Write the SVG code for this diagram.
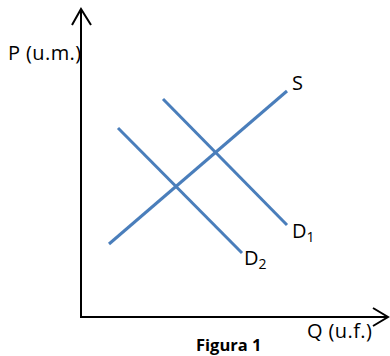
<svg xmlns="http://www.w3.org/2000/svg" width="390" height="356" viewBox="0 0 390 356">
<style>
.ax{stroke:#000;stroke-width:2;fill:none}
.cv{stroke:#4a7ebb;stroke-width:3;fill:none}
text{font-family:"Open Sans","Liberation Sans",sans-serif;font-size:20px;fill:#000}
.sub{font-size:14px}
.b{font-weight:bold;font-size:16.5px}
</style>
<g id="axes">
<polyline class="ax" points="81,9 81,317 388,317"/>
<polyline class="ax" points="72,25 81,9 91,25"/>
<polyline class="ax" points="373,308 388,317 373,326"/>
</g>
<g id="connectors">
<line id="S" class="cv" x1="109" y1="244" x2="287" y2="91"/>
<line id="D1" class="cv" x1="163" y1="99" x2="287" y2="225"/>
<line id="D2" class="cv" x1="118" y1="128" x2="242" y2="253"/>
</g>
<g id="labels">
<text x="8" y="60" letter-spacing="0.4">P (u.m.)</text>
<text x="292" y="90">S</text>
<text x="292" y="238">D<tspan class="sub" dy="4">1</tspan></text>
<text x="244" y="265">D<tspan class="sub" dy="4">2</tspan></text>
<text x="307" y="338" letter-spacing="0.4">Q (u.f.)</text>
<text class="b" x="196" y="351">Figura 1</text>
</g>
</svg>
